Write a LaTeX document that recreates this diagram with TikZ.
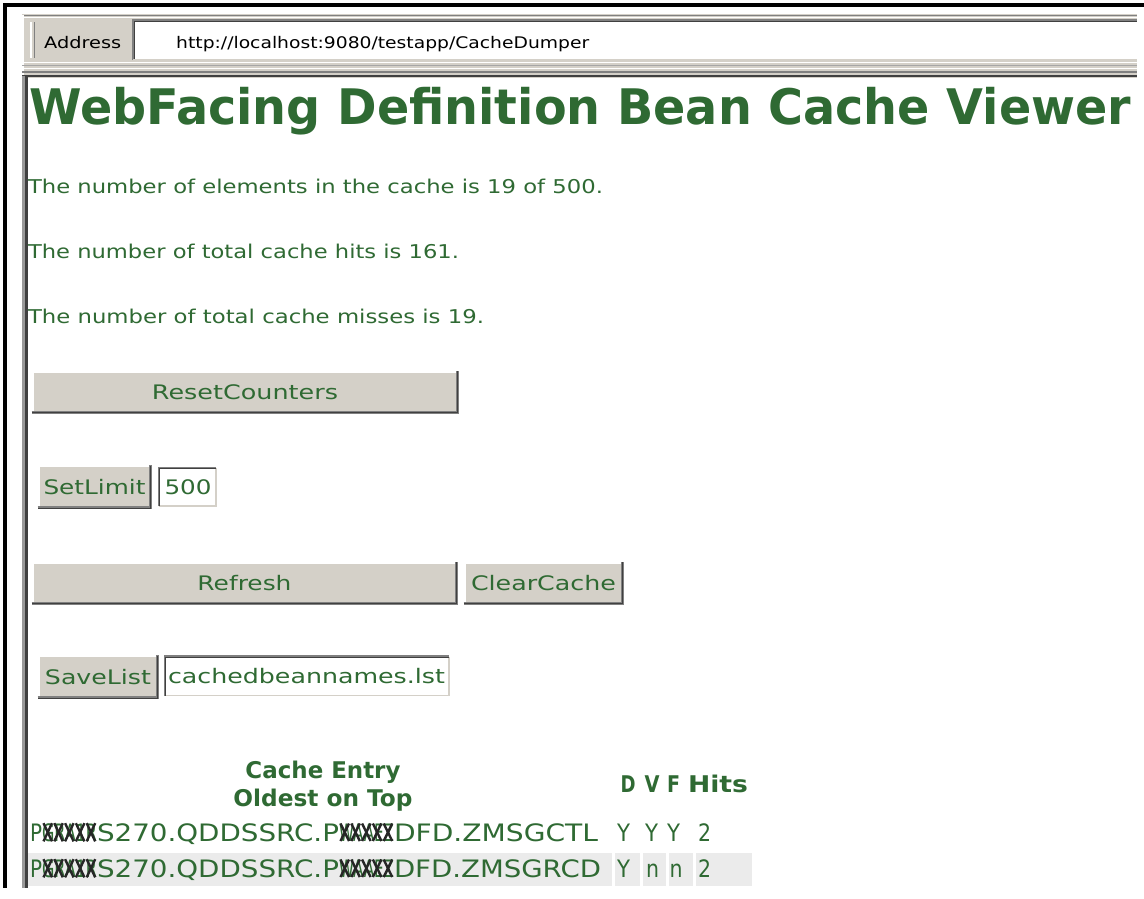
\documentclass[tikz,border=0pt]{standalone}
\usepackage{fontspec}
\setmainfont{DejaVu Sans}
\usepackage{graphicx}
\definecolor{wfgreen}{HTML}{2F6A33}
\definecolor{btnface}{HTML}{D4D0C8}
\definecolor{btnshadow}{HTML}{808080}
\definecolor{btndark}{HTML}{404040}
\definecolor{rowgray}{HTML}{EBEBEB}
\newcommand\fw[2]{\resizebox{#1pt}{\height}{#2}}
\newcommand\raisedbevel[1]{%
  \draw[white,line width=1.5pt] (#1.south west) |- (#1.north east);
  \draw[btnshadow,line width=3pt] ([shift={(-1.5pt,0pt)}]#1.south west) -| ([shift={(0pt,1.5pt)}]#1.north east);
  \draw[btndark,line width=1.2pt] ([shift={(-0.6pt,-0.6pt)}]#1.south west) -| ([shift={(0.6pt,0.6pt)}]#1.north east);}
\newcommand\sunkenbevel[1]{%
  \draw[btnface,line width=1.5pt] (#1.south west) -| (#1.north east);
  \draw[btnshadow,line width=2.5pt] (#1.south west) |- (#1.north east);
  \draw[btndark,line width=1pt] ([shift={(0.8pt,0pt)}]#1.south west) |- ([shift={(0pt,-0.8pt)}]#1.north east);}
\newcommand\scribble[1]{%
  \foreach \i in {0,...,4}{%
    \draw[black!85,line width=2.4pt] ([shift={(\i*10.8+1.5,0)}]#1.north west) -- ([shift={(\i*10.8+10,0)}]#1.south west);
    \draw[black!85,line width=2.4pt] ([shift={(\i*10.8+10,0)}]#1.north west) -- ([shift={(\i*10.8+1.5,0)}]#1.south west);
  }}
\begin{document}
\begin{tikzpicture}[x=1pt,y=-1pt,
  txt/.style={inner sep=0pt,outer sep=0pt,text=wfgreen,anchor=base west,font=\fontsize{19}{22}\selectfont},
  hdr/.style={inner sep=0pt,outer sep=0pt,text=wfgreen,anchor=base,font=\bfseries\fontsize{23}{26}\selectfont},
  rowtxt/.style={inner sep=0pt,outer sep=0pt,text=wfgreen,anchor=base west,font=\fontsize{24}{26}\selectfont},
  cell/.style={inner sep=0pt,outer sep=0pt,text=wfgreen,anchor=base,font=\fontsize{24}{26}\selectfont},
  btn/.style={fill=btnface,inner sep=0pt,outer sep=0pt,text=wfgreen,font=\fontsize{20}{22}\selectfont},
  field/.style={fill=white,inner sep=0pt,outer sep=0pt,text=wfgreen,font=\fontsize{20}{22}\selectfont,text width=#1,align=left},
]
\useasboundingbox[fill=white] (0,0) rectangle (1144,898);
% outer black frame
\fill[black] (3,3) rectangle (1144,7);
\fill[black] (3,3) rectangle (7,888);
% toolbar
\fill[btnface] (22,14) rectangle (1137,78);
\draw[btnshadow,line width=1pt] (22,15.5) -- (1137,15.5);
\draw[white,line width=1pt] (22,17) -- (1137,17);
\draw[white,line width=1.5pt] (23,15) -- (23,78);
\draw[white,line width=2pt] (31,22) -- (31,58);
\draw[btnshadow,line width=1.5pt] (34.5,22) -- (34.5,58);
\draw[white,line width=1pt] (22,62) -- (1137,62);
\draw[btnshadow!70,line width=1pt] (22,65.5) -- (1137,65.5);
\draw[white,line width=1.5pt] (22,68.5) -- (1137,68.5);
\draw[btnshadow,line width=2pt] (22,72) -- (1137,72);
\draw[btndark,line width=2pt] (22,75.5) -- (1137,75.5);
\node[inner sep=0pt,anchor=base west,text=black,font=\fontsize{16}{18}\selectfont] (addrlbl) at (44,48) {\fw{77}{Address}};
\node[fill=white,inner sep=0pt,outer sep=0pt,minimum width=1004pt,minimum height=40pt,anchor=north west] (addrfield) at (133,20) {};
\draw[btnshadow,line width=1.5pt] (addrfield.south west) |- (addrfield.north east);
\draw[btndark,line width=1pt] ([shift={(1.5pt,0pt)}]addrfield.south west) |- ([shift={(0pt,-1.5pt)}]addrfield.north east);
\draw[btnface,line width=1.5pt] (addrfield.south west) -- (addrfield.south east);
\node[inner sep=0pt,anchor=base west,text=black,font=\fontsize{16}{18}\selectfont] (url) at (176,48) {\fw{413}{http://localhost:9080/testapp/CacheDumper}};
% content left border
\fill[btnshadow!80] (22,76) rectangle (25,888);
\fill[btndark] (25,76) rectangle (27.5,888);
% title
\node[inner sep=0pt,anchor=base west,text=wfgreen,font=\bfseries\fontsize{49}{52}\selectfont] (title) at (29,124) {\fw{1102}{WebFacing Definition Bean Cache Viewer}};
% info lines
\node[txt] (l1) at (28,193) {\fw{575}{The number of elements in the cache is 19 of 500.}};
\node[txt] (l2) at (28,258) {\fw{431}{The number of total cache hits is 161.}};
\node[txt] (l3) at (28,323) {\fw{456}{The number of total cache misses is 19.}};
% buttons
\node[btn,minimum width=424pt,minimum height=40pt] (reset) at (245,392) {\fw{186}{ResetCounters}};
\raisedbevel{reset}
\node[btn,minimum width=111pt,minimum height=41pt] (setlimit) at (94.5,487) {\fw{102}{SetLimit}};
\raisedbevel{setlimit}
\node[field=50pt,minimum width=57pt,minimum height=38pt] (limit) at (187.5,487) {\hspace{2pt}\fw{47}{500}};
\sunkenbevel{limit}
\node[btn,minimum width=423pt,minimum height=40pt] (refresh) at (244.5,583) {\fw{94}{Refresh}};
\raisedbevel{refresh}
\node[btn,minimum width=157pt,minimum height=40pt] (clear) at (543.5,583) {\fw{145}{ClearCache}};
\raisedbevel{clear}
\node[btn,minimum width=118pt,minimum height=41pt] (savelist) at (98,677) {\fw{106}{SaveList}};
\raisedbevel{savelist}
\node[field=280pt,minimum width=284pt,minimum height=39pt] (listname) at (307,676) {\hspace{1pt}\fw{277}{cachedbeannames.lst}};
\sunkenbevel{listname}
% table header
\node[hdr] (h1) at (323,778) {\fw{155}{Cache Entry}};
\node[hdr] (h2) at (323,806) {\fw{179}{Oldest on Top}};
\node[hdr] (hd) at (628,792) {\fw{15}{D}};
\node[hdr] (hv) at (652,792) {\fw{15}{V}};
\node[hdr] (hf) at (673.5,792) {\fw{13}{F}};
\node[hdr,anchor=base west] (hh) at (688,792) {\fw{60}{Hits}};
% row 2 background
\fill[rowgray] (28,853) rectangle (612,886);
\fill[rowgray] (615,853) rectangle (640,886);
\fill[rowgray] (643,853) rectangle (666,886);
\fill[rowgray] (669,853) rectangle (693,886);
\fill[rowgray] (696,853) rectangle (752,886);
% row 1
\node[rowtxt] (r1a) at (30,841) {\fw{12}{P}};
\node[rowtxt] (r1b) at (r1a.base east) {\fw{55}{GRA1R}};
\node[rowtxt] (r1c) at (r1b.base east) {\fw{242}{S270.QDDSSRC.P}};
\node[rowtxt] (r1d) at (r1c.base east) {\fw{55}{WAAEZ}};
\node[rowtxt] (r1e) at (r1d.base east) {\fw{204}{DFD.ZMSGCTL}};
\scribble{r1b}
\scribble{r1d}
\node[cell] (r1dv) at (623.5,841) {\fw{13}{Y}};
\node[cell] (r1vv) at (651.5,841) {\fw{13}{Y}};
\node[cell] (r1fv) at (673.5,841) {\fw{13}{Y}};
\node[cell] (r1hv) at (704.5,841) {\fw{13}{2}};
% row 2
\node[rowtxt] (r2a) at (30,877) {\fw{12}{P}};
\node[rowtxt] (r2b) at (r2a.base east) {\fw{55}{GRA1R}};
\node[rowtxt] (r2c) at (r2b.base east) {\fw{242}{S270.QDDSSRC.P}};
\node[rowtxt] (r2d) at (r2c.base east) {\fw{55}{WAAEZ}};
\node[rowtxt] (r2e) at (r2d.base east) {\fw{207}{DFD.ZMSGRCD}};
\scribble{r2b}
\scribble{r2d}
\node[cell] (r2dv) at (623.5,877) {\fw{13}{Y}};
\node[cell] (r2vv) at (652.5,877) {\fw{13}{n}};
\node[cell] (r2fv) at (676,877) {\fw{13}{n}};
\node[cell] (r2hv) at (704.5,877) {\fw{13}{2}};
\end{tikzpicture}
\end{document}
